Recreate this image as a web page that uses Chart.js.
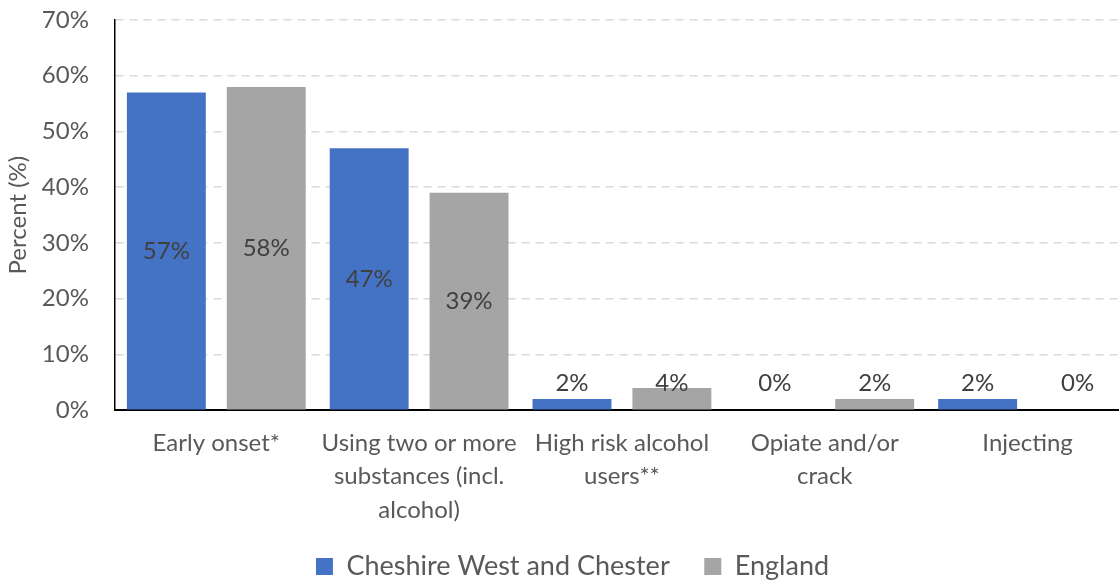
<!DOCTYPE html>
<html>
<head>
<meta charset="utf-8">
<script src="https://cdn.jsdelivr.net/npm/chart.js@4.4.0/dist/chart.umd.min.js"></script>
<style>
  html, body { margin: 0; padding: 0; background: #fff; }
  #wrap { width: 1119px; height: 581px; position: relative; }
</style>
</head>
<body>
<div id="wrap"><canvas id="grafico"></canvas></div>
<script>
// categorias e valores
var categorias = [
    'Early onset*',
    ['Using two or more', 'substances (incl.', 'alcohol)'],
    ['High risk alcohol', 'users**'],
    ['Opiate and/or', 'crack'],
    'Injecting'
];
var valoresCheshire = [57, 47, 2, 0, 2];
var valoresEngland = [58, 39, 4, 2, 0];
var ticksY = [0, 10, 20, 30, 40, 50, 60, 70];

var fonte = 'Lato, "Open Sans", sans-serif';
var corTexto = '#595959';

// o eixo x do original passa um pouco da borda direita; legenda um pouco a direita
var esticarX = {
    id: 'esticarX',
    afterLayout: function(chart) {
        var s = chart.scales.x;
        s.right += 10;
        s.width += 10;
        s.configure();
        if (chart.legend) {
            chart.legend.left += 13;
            chart.legend.right += 13;
        }
    }
};

// rotulos de dados: no meio da barra se for grande, acima se for pequeno
var rotulosPlugin = {
    id: 'rotulos',
    afterDatasetsDraw: function(chart) {
        var ctx = chart.ctx;
        var escalaY = chart.scales.y;
        ctx.save();
        ctx.font = '24px ' + fonte;
        ctx.fillStyle = '#404040';
        ctx.textAlign = 'center';
        ctx.textBaseline = 'middle';
        chart.data.datasets.forEach(function(ds, i) {
            var meta = chart.getDatasetMeta(i);
            meta.data.forEach(function(barra, j) {
                var v = ds.data[j];
                var y;
                if (v >= 10) {
                    y = (escalaY.getPixelForValue(v) + escalaY.getPixelForValue(0)) / 2;
                } else {
                    y = escalaY.getPixelForValue(0) - 27;
                }
                ctx.fillText(v + '%', barra.x, y);
            });
        });
        ctx.restore();
    }
};

var ctx = document.getElementById('grafico').getContext('2d');
var chart = new Chart(ctx, {
    type: 'bar',
    data: {
        labels: categorias,
        datasets: [{
            label: 'Cheshire West and Chester     ',
            data: valoresCheshire,
            backgroundColor: '#4472C4',
            categoryPercentage: 0.985,
            barPercentage: 0.79
        },
        {
            label: 'England',
            data: valoresEngland,
            backgroundColor: '#A5A5A5',
            categoryPercentage: 0.985,
            barPercentage: 0.79
        }]
    },
    options: {
        responsive: true,
        maintainAspectRatio: false,
        animation: false,
        layout: {
            padding: { top: 0, right: 0, bottom: 0, left: 0 }
        },
        plugins: {
            legend: {
                position: 'bottom',
                maxHeight: 28,
                labels: {
                    font: { family: fonte, size: 27 },
                    color: corTexto,
                    boxWidth: 17,
                    boxHeight: 17,
                    padding: 0
                }
            },
            tooltip: { enabled: false }
        },
        scales: {
            x: {
                grid: { display: false },
                border: { display: true, color: '#000', width: 2 },
                afterFit: function(escala) {
                    escala.height += 18;
                },
                ticks: {
                    font: { family: fonte, size: 24, lineHeight: 1.4 },
                    color: corTexto,
                    maxRotation: 0,
                    autoSkip: false,
                    padding: 8
                }
            },
            y: {
                min: 0,
                max: 70,
                afterBuildTicks: function(axis) {
                    axis.ticks = ticksY.map(function(v) { return { value: v }; });
                },
                afterFit: function(escala) {
                    escala.width -= 28;
                    escala.paddingTop = 20;
                },
                grid: {
                    color: '#d9d9d9',
                    lineWidth: 1.5,
                    drawTicks: false
                },
                border: { display: true, color: '#000', width: 1.5, dash: [8, 6] },
                ticks: {
                    font: { family: fonte, size: 24 },
                    color: corTexto,
                    padding: 26,
                    callback: function(v) { return v + '%'; }
                },
                title: {
                    display: true,
                    text: 'Percent (%)',
                    font: { family: fonte, size: 24 },
                    color: corTexto,
                    padding: { top: 4, bottom: 11 }
                }
            }
        }
    },
    plugins: [esticarX, rotulosPlugin]
});
</script>
</body>
</html>
